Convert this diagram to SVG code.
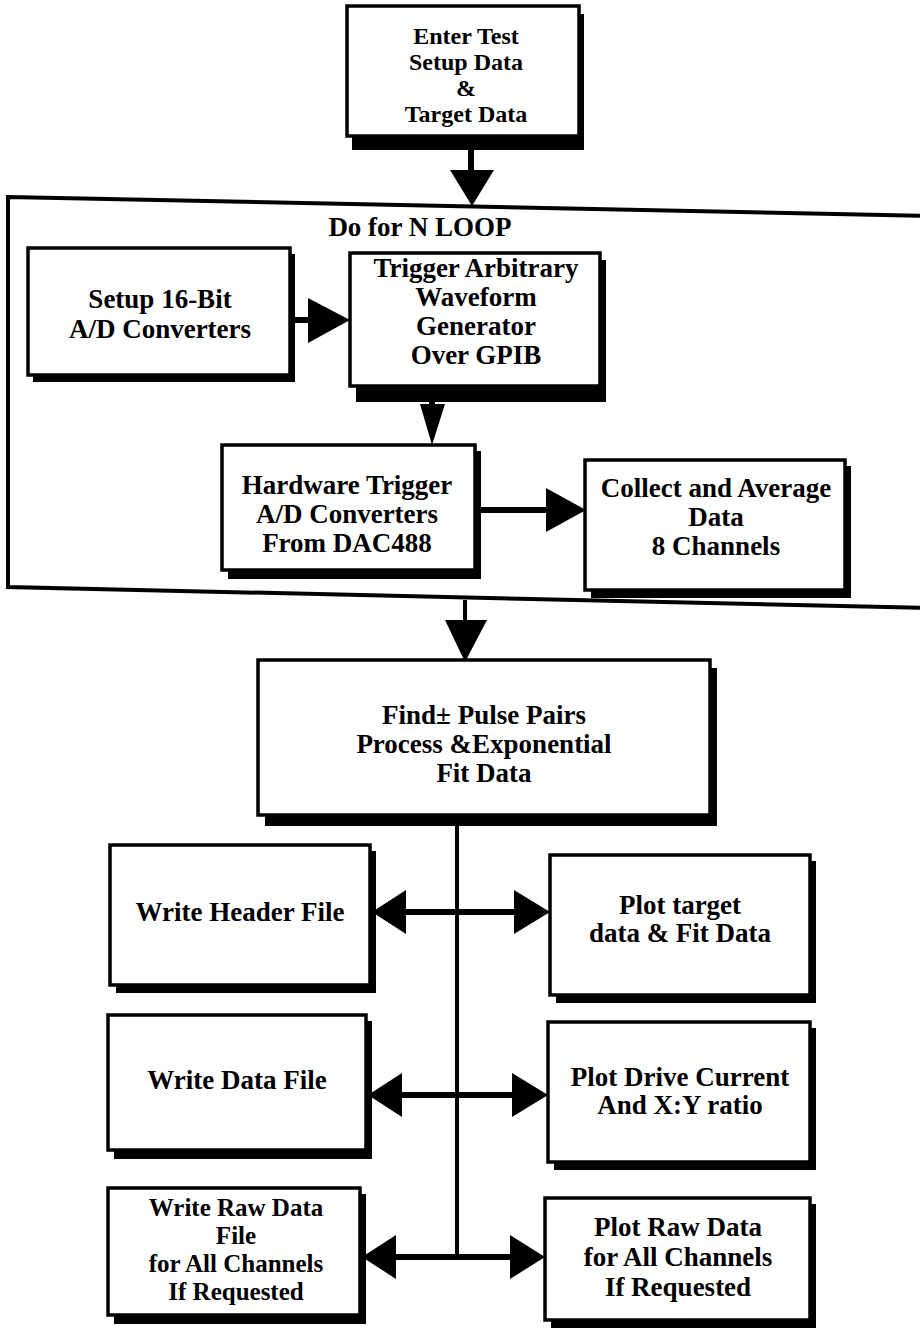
<svg xmlns="http://www.w3.org/2000/svg" width="920" height="1333" viewBox="0 0 920 1333">
<style>
.box{fill:#fff;stroke:#000;stroke-width:3.5}
.sh{fill:#000}
.t{font-family:"Liberation Serif","Times New Roman",serif;font-weight:bold;font-size:27px;text-anchor:middle;fill:#000}
.s{font-size:24px}
.ln{stroke:#000;stroke-width:6;fill:none}
.thin{stroke:#000;stroke-width:4;fill:none}
.ah{fill:#000}
</style>
<rect width="920" height="1333" fill="#fff"/>

<g id="loop">
<polygon points="8,197 930,216 930,608 8,587" fill="none" stroke="#000" stroke-width="4"/>
<text class="t" x="420" y="236">Do for N LOOP</text>
</g>

<g id="enter">
<rect class="sh" x="352" y="14" width="232" height="136"/>
<rect class="box" x="347" y="6" width="232" height="130"/>
<text class="t s" x="466" y="44">Enter Test</text>
<text class="t s" x="466" y="70">Setup Data</text>
<text class="t s" x="466" y="96">&amp;</text>
<text class="t s" x="466" y="122">Target Data</text>
</g>

<g id="setup">
<rect class="sh" x="33" y="254" width="262" height="128"/>
<rect class="box" x="28" y="248" width="262" height="127"/>
<text class="t" x="160" y="308">Setup 16-Bit</text>
<text class="t" x="160" y="338">A/D Converters</text>
</g>

<g id="trigger">
<rect class="sh" x="356" y="260" width="250" height="142"/>
<rect class="box" x="350" y="253" width="250" height="133"/>
<text class="t" x="476" y="277">Trigger Arbitrary</text>
<text class="t" x="476" y="306">Waveform</text>
<text class="t" x="476" y="335">Generator</text>
<text class="t" x="476" y="364">Over GPIB</text>
</g>

<g id="hardware">
<rect class="sh" x="228" y="451" width="253" height="128"/>
<rect class="box" x="222" y="445" width="253" height="125"/>
<text class="t" x="347" y="494">Hardware Trigger</text>
<text class="t" x="347" y="523">A/D Converters</text>
<text class="t" x="347" y="552">From DAC488</text>
</g>

<g id="collect">
<rect class="sh" x="591" y="466" width="260" height="132"/>
<rect class="box" x="585" y="460" width="260" height="130"/>
<text class="t" x="716" y="497">Collect and Average</text>
<text class="t" x="716" y="526">Data</text>
<text class="t" x="716" y="555">8 Channels</text>
</g>

<g id="find">
<rect class="sh" x="265" y="668" width="452" height="158"/>
<rect class="box" x="258" y="660" width="452" height="155"/>
<text class="t" x="484" y="724">Find± Pulse Pairs</text>
<text class="t" x="484" y="753">Process &amp;Exponential</text>
<text class="t" x="484" y="782">Fit Data</text>
</g>

<g id="header">
<rect class="sh" x="116" y="851" width="260" height="142"/>
<rect class="box" x="110" y="845" width="260" height="140"/>
<text class="t" x="240" y="921">Write Header File</text>
</g>

<g id="plottarget">
<rect class="sh" x="556" y="861" width="260" height="142"/>
<rect class="box" x="550" y="855" width="260" height="140"/>
<text class="t" x="680" y="914">Plot target</text>
<text class="t" x="680" y="942">data &amp; Fit Data</text>
</g>

<g id="datafile">
<rect class="sh" x="114" y="1021" width="258" height="138"/>
<rect class="box" x="108" y="1015" width="258" height="135"/>
<text class="t" x="237" y="1089">Write Data File</text>
</g>

<g id="plotdrive">
<rect class="sh" x="554" y="1028" width="262" height="142"/>
<rect class="box" x="548" y="1022" width="262" height="140"/>
<text class="t" x="680" y="1086">Plot Drive Current</text>
<text class="t" x="680" y="1114">And X:Y ratio</text>
</g>

<g id="rawfile">
<rect class="sh" x="114" y="1194" width="252" height="130"/>
<rect class="box" x="108" y="1188" width="252" height="127"/>
<text class="t" x="236" y="1216" style="font-size:25px">Write Raw Data</text>
<text class="t" x="236" y="1244" style="font-size:25px">File</text>
<text class="t" x="236" y="1272" style="font-size:25px">for All Channels</text>
<text class="t" x="236" y="1300" style="font-size:25px">If Requested</text>
</g>

<g id="plotraw">
<rect class="sh" x="551" y="1204" width="265" height="124"/>
<rect class="box" x="545" y="1198" width="265" height="122"/>
<text class="t" x="678" y="1236">Plot Raw Data</text>
<text class="t" x="678" y="1266">for All Channels</text>
<text class="t" x="678" y="1296">If Requested</text>
</g>

<g id="connectors">
<line class="ln" x1="471" y1="148" x2="471" y2="175"/>
<polygon class="ah" points="450,170 494,170 472,206"/>

<line class="ln" x1="290" y1="320" x2="315" y2="320"/>
<polygon class="ah" points="308,298 308,343 350,320"/>

<line class="ln" x1="432" y1="400" x2="432" y2="410"/>
<polygon class="ah" points="420,404 445,404 432,445"/>

<line class="ln" x1="475" y1="510" x2="552" y2="510"/>
<polygon class="ah" points="546,488 546,532 586,510"/>

<line class="thin" x1="465" y1="600" x2="465" y2="625"/>
<polygon class="ah" points="445,620 487,620 465,662"/>

<line class="thin" x1="457" y1="825" x2="457" y2="1257"/>

<line class="ln" x1="400" y1="912" x2="520" y2="912"/>
<polygon class="ah" points="406,890 406,934 372,912"/>
<polygon class="ah" points="514,890 514,934 550,912"/>

<line class="ln" x1="395" y1="1095" x2="520" y2="1095"/>
<polygon class="ah" points="402,1073 402,1117 368,1095"/>
<polygon class="ah" points="512,1073 512,1117 548,1095"/>

<line class="ln" x1="390" y1="1257" x2="515" y2="1257"/>
<polygon class="ah" points="396,1235 396,1279 362,1257"/>
<polygon class="ah" points="510,1235 510,1279 545,1257"/>
</g>
</svg>
